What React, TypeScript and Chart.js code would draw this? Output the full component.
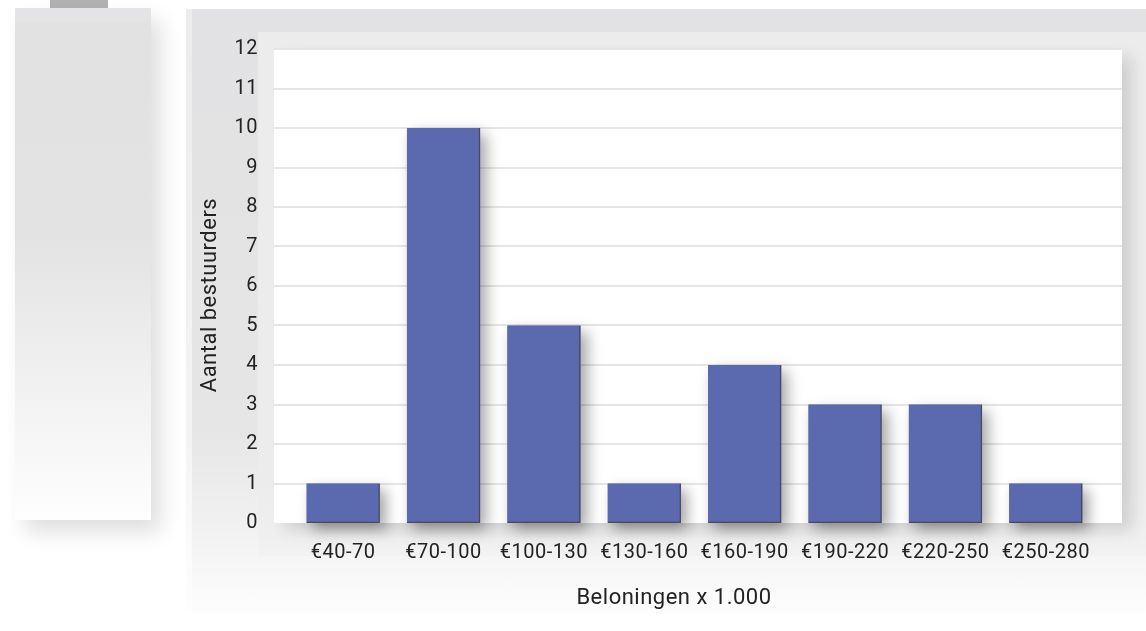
import React, { useEffect, useRef } from "react";
import { Chart, registerables } from "chart.js";

Chart.register(...registerables);

const categories = ["€40-70", "€70-100", "€100-130", "€130-160", "€160-190", "€190-220", "€220-250", "€250-280"];
const counts = [1, 10, 5, 1, 4, 3, 3, 1];
const yMin = 0;
const yMax = 12;
const yStep = 1;
const xTitle = "Beloningen x 1.000";
const yTitle = "Aantal bestuurders";

const W = 1146;
const H = 631;
const AREA = { left: 293, right: 1096, top: 49, bottom: 523 };
const PLOT_BG = { left: 274, right: 1122 };
const FONT = "Roboto, 'Liberation Sans', Arial, sans-serif";
const BAR_COLOR = "#5b69ae";
const TEXT_COLOR = "#222";

const decorPlugin = {
  id: "decor",
  beforeDraw(chart: any) {
    (chart.ctx as any).letterSpacing = "0.5px";
  },
  beforeDatasetsDraw(chart: any) {
    const ctx = chart.ctx;
    const y = chart.scales.y;
    ctx.save();
    ctx.strokeStyle = "#e6e6e6";
    ctx.lineWidth = 2;
    y.ticks.forEach((t: any) => {
      if (t.value === 0) return;
      const py = Math.round(y.getPixelForValue(t.value));
      ctx.beginPath();
      ctx.moveTo(PLOT_BG.left, py);
      ctx.lineTo(PLOT_BG.right, py);
      ctx.stroke();
    });
    ctx.restore();
    const meta = chart.getDatasetMeta(0);
    ctx.save();
    ctx.shadowColor = "rgba(0,0,0,0.36)";
    ctx.shadowBlur = 14;
    ctx.shadowOffsetX = 6;
    ctx.shadowOffsetY = 6;
    ctx.fillStyle = BAR_COLOR;
    meta.data.forEach((el: any) => {
      const p = el.getProps(["x", "y", "base", "width"], true);
      ctx.fillRect(p.x - p.width / 2, p.y, p.width, p.base - p.y);
    });
    ctx.restore();
  },
  afterDraw(chart: any) {
    const ctx = chart.ctx;
    ctx.save();
    (ctx as any).letterSpacing = "0.5px";
    ctx.fillStyle = TEXT_COLOR;
    ctx.font = `22px ${FONT}`;
    ctx.textAlign = "center";
    ctx.textBaseline = "middle";
    ctx.fillText(xTitle, 674, 598);
    ctx.translate(210, 295);
    ctx.rotate(-Math.PI / 2);
    ctx.fillText(yTitle, 0, 0);
    ctx.restore();
  },
};

export default function App() {
  const ref = useRef<HTMLCanvasElement>(null);
  useEffect(() => {
    if (!ref.current) return;
    const chart = new Chart(ref.current, {
      type: "bar",
      data: {
        labels: categories,
        datasets: [
          {
            data: counts,
            backgroundColor: BAR_COLOR,
            borderColor: "#4a4a55",
            borderWidth: { top: 0, left: 0, right: 1.5, bottom: 1.5 },
            borderSkipped: false,
            categoryPercentage: 1,
            barPercentage: 0.73,
          },
        ],
      },
      options: {
        responsive: false,
        animation: false,
        devicePixelRatio: 1,
        layout: { padding: { left: 186, right: W - AREA.right, top: AREA.top, bottom: 0 } },
        plugins: { legend: { display: false }, tooltip: { enabled: false } },
        scales: {
          x: {
            grid: { display: false, drawTicks: false },
            border: { display: false },
            ticks: { color: TEXT_COLOR, font: { family: FONT, size: 20 }, padding: 18, maxRotation: 0, autoSkip: false },
            title: { display: false, text: xTitle },
            afterFit: (s: any) => { s.height = H - AREA.bottom; },
          },
          y: {
            min: yMin,
            max: yMax,
            grid: { display: false, drawTicks: false },
            border: { display: false },
            ticks: { stepSize: yStep, color: TEXT_COLOR, font: { family: FONT, size: 20 }, padding: 35 },
            title: { display: false, text: yTitle },
            afterFit: (s: any) => { s.width = AREA.left - 186; },
          },
        },
      },
      plugins: [decorPlugin],
    });
    return () => chart.destroy();
  }, []);

  return (
    <div style={{ position: "fixed", left: 0, top: 0, width: W, height: H, overflow: "hidden", background: "#fff" }}>
      <div style={{ position: "absolute", left: 50, top: 0, width: 58, height: 11, background: "#b2b2b2", borderBottom: "1px solid #c4c4c4" }} />
      <div
        style={{
          position: "absolute", left: 15, top: 8, width: 136, height: 512,
          background: "linear-gradient(to bottom, #e4e4e6 0px, #e4e4e6 14px, #e2e2e2 15px, #e3e3e3 45%, #f4f4f4 80%, #fefefe 100%)",
          boxShadow: "10px 12px 20px rgba(0,0,0,0.13)",
        }}
      />
      <div
        style={{
          position: "absolute", left: 186, top: 9, width: 960, height: 604,
          background: "linear-gradient(to bottom, #e2e2e4 0px, #e3e3e4 30%, #e6e6e6 70%, #f3f3f3 88%, #fdfdfd 100%)",
        }}
      />
      <div style={{ position: "absolute", left: 186, top: 9, width: 6, height: 604, background: "linear-gradient(to bottom, rgba(255,255,255,0.35), rgba(255,255,255,0.6))" }} />
      <div
        style={{
          position: "absolute", left: 258, top: 32, width: 888, height: 524,
          background: "linear-gradient(to bottom, #ececec 0%, #ececec 85%, rgba(240,240,240,0.6) 100%)",
        }}
      />
      <div
        style={{
          position: "absolute", left: PLOT_BG.left, top: AREA.top, width: PLOT_BG.right - PLOT_BG.left, height: AREA.bottom - AREA.top,
          background: "#fff", boxShadow: "10px 8px 14px rgba(0,0,0,0.12)",
        }}
      />
      <canvas ref={ref} width={W} height={H} style={{ position: "absolute", left: 0, top: 0, width: W, height: H }} />
    </div>
  );
}
